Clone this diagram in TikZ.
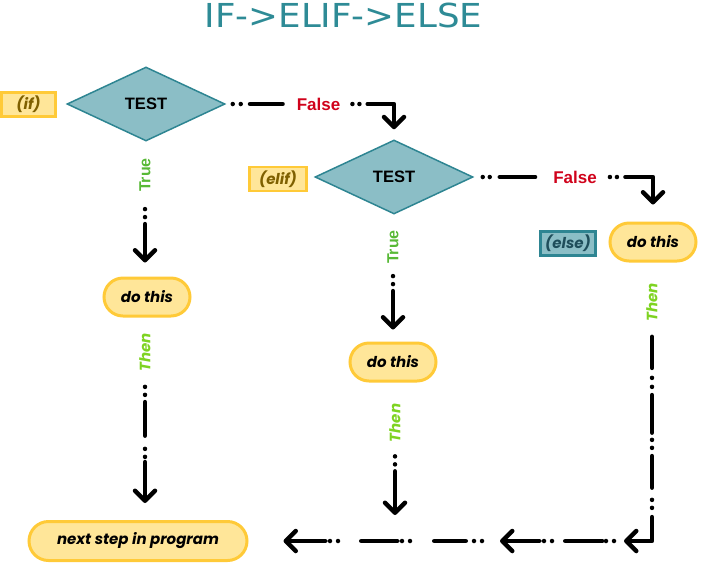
\documentclass[tikz,border=0pt]{standalone}
\usepackage{fontspec}
\usetikzlibrary{shapes.geometric,shapes.misc,arrows.meta,calc}
\newfontfamily\popfont{Poppins}
\newfontfamily\arfont{Liberation Sans}
\newfontfamily\ttlfont{DejaVu Sans}
\definecolor{ttlcol}{HTML}{2E8B96}
\definecolor{dfill}{HTML}{8BBEC6}
\definecolor{dline}{HTML}{2E8592}
\definecolor{yfill}{HTML}{FFE699}
\definecolor{yline}{HTML}{FFCA38}
\definecolor{olive}{HTML}{7F6000}
\definecolor{dteal}{HTML}{1F4E5B}
\definecolor{truecol}{HTML}{58B936}
\definecolor{thencol}{HTML}{7ED321}
\definecolor{falsecol}{HTML}{D0021B}
\begin{document}
\begin{tikzpicture}[x=1pt,y=-1pt,
  popf/.style={font=\popfont\bfseries\itshape\fontsize{15}{18}\selectfont},
  test/.style={diamond, aspect=2, draw=dline, fill=dfill, line width=1.5pt,
    minimum width=158, minimum height=74, inner sep=2pt,
    font=\arfont\bfseries\fontsize{16.5}{19}\selectfont},
  ydo/.style={rounded rectangle, draw=yline, fill=yfill, line width=3pt,
    minimum width=90, minimum height=38, inner sep=2pt, popf},
  ytag/.style={rectangle, draw=yline, fill=yfill, line width=2.5pt,
    minimum height=24, inner sep=1pt, popf, text=olive},
  ttag/.style={rectangle, draw=dline, fill=dfill, line width=2.5pt,
    minimum height=24, inner sep=1pt, popf, text=dteal},
  truelbl/.style={rotate=90, inner sep=0pt, text=truecol,
    font=\arfont\bfseries\fontsize{16}{19}\selectfont},
  thenlbl/.style={rotate=90, inner sep=0pt, text=thencol, popf},
  falselbl/.style={inner sep=0pt, text=falsecol,
    font=\arfont\bfseries\fontsize{17}{20}\selectfont},
  conn/.style={line width=4.5pt, line cap=round, line join=round},
  >={Straight Barb[length=10pt,width=20pt,round]}
]
\useasboundingbox (0,0) rectangle (702,566);

% title
\node[inner sep=0pt, text=ttlcol, xscale=1.08, font=\ttlfont\fontsize{33}{38}\selectfont] (title) at (343.5,15) {IF->ELIF->ELSE};

% nodes
\node[ytag, minimum width=54] (iftag) at (28.5,104.5) {(if)};
\node[test] (d1) at (146,104) {TEST};
\node[falselbl] (f1) at (318.5,104) {False};
\node[ytag, minimum width=57] (eliftag) at (278,179) {(elif)};
\node[test] (d2) at (394,177) {TEST};
\node[falselbl] (f2) at (575,177) {False};
\node[ttag, minimum width=55] (elsetag) at (568,243.5) {(else)};
\node[ydo] (do3) at (653,242) {do this};

\node[truelbl] (t1) at (145,175) {True};
\node[ydo] (do1) at (147,297) {do this};
\node[thenlbl] (th1) at (145,352.5) {Then};

\node[truelbl] (t2) at (393,247) {True};
\node[ydo] (do2) at (393,362) {do this};
\node[thenlbl] (th2) at (395,423) {Then};

\node[thenlbl] (th3) at (652,302.5) {Then};

\node[ydo, minimum width=222, minimum height=39] (next) at (138,541) {next step in program};

\coordinate (corner) at (th3.west |- next.east);
\coordinate (r1) at (624,541);
\coordinate (s0) at (614,541);
\coordinate (s1) at (500,541);
\coordinate (u0) at (482,541);
\coordinate (u1) at (434.25,541);
\coordinate (v0) at (410,541);
\coordinate (v1) at (361.25,541);
\coordinate (w0) at (338,541);

% IF false branch
\draw[conn, dash pattern=on 0pt off 8pt on 0pt off 9.25pt on 60pt]
  ($(d1.east)+(7,0)$) -- ($(f1.west)+(-14,0)$);
\draw[conn, ->, dash pattern=on 0pt off 7pt on 0pt off 8.25pt on 200pt]
  ($(f1.east)+(12,0)$) -| ($(d2.north)+(0,-10)$);

% ELIF false branch
\draw[conn, dash pattern=on 0pt off 7pt on 0pt off 10pt on 60pt]
  ($(d2.east)+(9,0)$) -- ($(f2.west)+(-18,0)$);
\draw[conn, ->, dash pattern=on 0pt off 7pt on 0pt off 8.5pt on 200pt]
  ($(f2.east)+(13,0)$) -| ($(do3.north)+(0,-17)$);

% IF true branch
\draw[conn, ->, dash pattern=on 0pt off 8pt on 0pt off 7pt on 200pt]
  ($(t1.west)+(0,17)$) -- ($(do1.north)+(-2,-14)$);
\draw[conn, ->, dash pattern=on 0pt off 8pt on 0pt off 7.25pt on 33.5pt off 13.25pt on 0pt off 8pt on 0pt off 5.25pt on 100pt]
  ($(th1.west)+(0,15)$) -- ($(th1.west |- next.north)+(0,-17)$);

% ELIF true branch
\draw[conn, ->, dash pattern=on 0pt off 8pt on 0pt off 7pt on 200pt]
  ($(t2.west)+(0,12)$) -- ($(do2.north)+(0,-12)$);
\draw[conn, ->, dash pattern=on 0pt off 8pt on 0pt off 7pt on 200pt]
  ($(th2.west)+(0,14)$) -- ($(th2.west |- next.east)+(0,-26)$);

% ELSE branch
\draw[conn, ->, dash pattern=on 31pt off 10pt on 0pt off 9pt on 0pt off 8.25pt on 37.5pt off 7.25pt on 0pt off 8pt on 0pt off 8.25pt on 31.5pt off 12.25pt on 0pt off 8pt on 0pt off 9.25pt on 200pt]
  ($(th3.west)+(0,15)$) -- (corner) -- (r1);

% bottom return line
\draw[conn, ->, dash pattern=on 0pt off 8pt on 0pt off 3.75pt on 37pt off 13.25pt on 0pt off 8pt on 0pt off 4.75pt on 100pt]
  (s0) -- (s1);
\draw[conn, dash pattern=on 0pt off 8pt on 0pt off 8.25pt on 100pt]
  (u0) -- (u1);
\draw[conn, dash pattern=on 0pt off 8pt on 0pt off 4.75pt on 100pt]
  (v0) -- (v1);
\draw[conn, ->, dash pattern=on 0pt off 8pt on 0pt off 4.75pt on 100pt]
  (w0) -- ($(next.east)+(35,0)$);
\end{tikzpicture}
\end{document}
